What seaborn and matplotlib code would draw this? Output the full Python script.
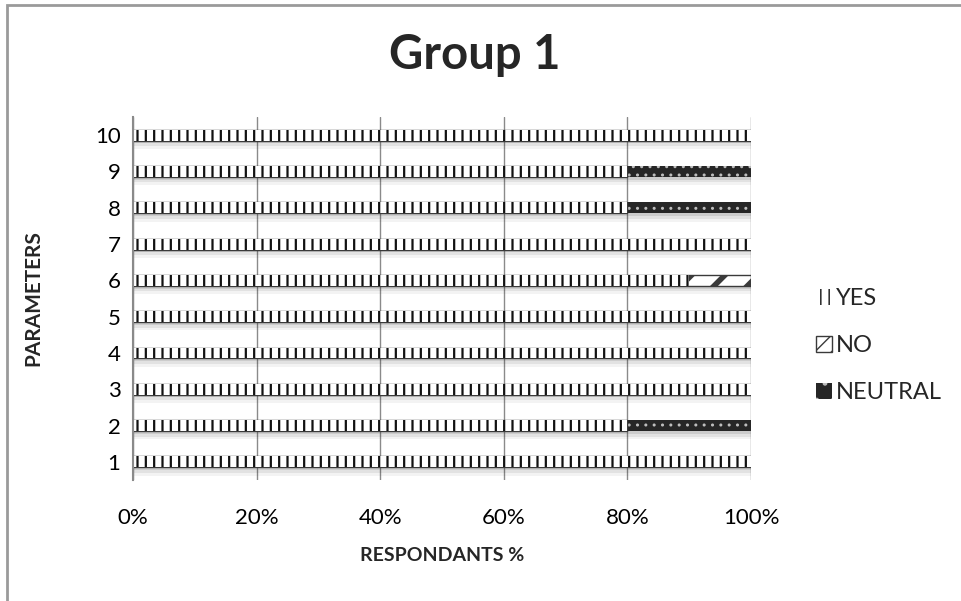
import matplotlib
matplotlib.use("Agg")
import matplotlib.pyplot as plt
import matplotlib.patheffects as pe
from matplotlib.patches import Patch, Rectangle
from matplotlib.ticker import PercentFormatter
import pandas as pd
import seaborn as sns

# Survey responses per parameter (percent of respondents)
parameters = ["1", "2", "3", "4", "5", "6", "7", "8", "9", "10"]
yes_pct = [100, 80, 100, 100, 100, 90, 100, 80, 80, 100]
no_pct = [0, 0, 0, 0, 0, 10, 0, 0, 0, 0]
neutral_pct = [0, 20, 0, 0, 0, 0, 0, 20, 20, 0]
x_ticks = [0, 20, 40, 60, 80, 100]

df = pd.DataFrame({"param": parameters, "yes": yes_pct, "no": no_pct, "neutral": neutral_pct})
df["yes_no"] = df["yes"] + df["no"]
df["total"] = df["yes_no"] + df["neutral"]
order = parameters[::-1]

sns.set_theme(style="white")
plt.rcParams["font.family"] = ["Lato", "DejaVu Sans"]

fig = plt.figure(figsize=(9.62, 6.01), dpi=100)
ax = fig.add_axes([0.1383, 0.2013, 0.6424, 0.604])

bar_w = 0.3
shadow = [
    pe.SimplePatchShadow(offset=(0, -2), shadow_rgbFace="k", alpha=0.10),
    pe.SimplePatchShadow(offset=(0, -4), shadow_rgbFace="k", alpha=0.08),
    pe.SimplePatchShadow(offset=(0, -6), shadow_rgbFace="k", alpha=0.05),
    pe.Normal(),
]

def layer(col, face, edge, lw, hatch=None, hatch_lw=1.0, fill=True, effects=None):
    before = len(ax.patches)
    with plt.rc_context({"hatch.linewidth": hatch_lw}):
        sns.barplot(data=df, x=col, y="param", orient="h", order=order,
                    width=bar_w, color=face if fill else "white", saturation=1,
                    errorbar=None, edgecolor=edge, linewidth=lw, hatch=hatch, ax=ax)
    for p in ax.patches[before:]:
        if not fill:
            p.set_facecolor("none")
        if effects:
            p.set_path_effects(effects)

# NEUTRAL segment (stack total), dark with light dots
layer("total", "#262626", "#262626", 0, effects=shadow)
layer("total", "#262626", "#bdbdbd", 0, hatch="..", fill=False)
# NO segment (yes + no), white with dark diagonal stripes
layer("yes_no", "white", "#3a3a3a", 1.0, hatch="/", hatch_lw=4.0)
# YES segment, white with vertical ticks
layer("yes", "white", "#111111", 0, hatch="||", hatch_lw=1.6)

ax.set_xlim(0, 100)
ax.set_xticks(x_ticks)
ax.xaxis.set_major_formatter(PercentFormatter(decimals=0))
ax.grid(axis="x", color="#8a8a8a", linewidth=1.0)
ax.grid(axis="y", visible=False)
ax.set_axisbelow(True)
for s in ["top", "right", "bottom"]:
    ax.spines[s].set_visible(False)
ax.spines["left"].set_color("#8a8a8a")
ax.spines["left"].set_linewidth(1.5)
ax.tick_params(axis="x", length=0, pad=20, labelsize=16, colors="black")
ax.tick_params(axis="y", length=0, pad=9, labelsize=16, colors="black")

ax.set_xlabel("RESPONDANTS %", fontsize=14, fontweight="bold")
ax.set_ylabel("PARAMETERS", fontsize=15, fontweight="bold")
ax.xaxis.set_label_coords(0.5, -0.185)
ax.yaxis.set_label_coords(-0.145, 0.5)

fig.text(0.494, 0.908, "Group 1", ha="center", va="center", fontsize=34, fontweight="bold")

handles = [
    Patch(facecolor="white", edgecolor="#111111", linewidth=0, hatch="||"),
    Patch(facecolor="white", edgecolor="#3a3a3a", linewidth=1.0, hatch="//"),
    Patch(facecolor="#262626", edgecolor="#bdbdbd", linewidth=0, hatch="."),
]
leg = fig.legend(handles, ["YES", "NO", "NEUTRAL"], loc="center left",
                 bbox_to_anchor=(0.838, 0.425), frameon=False, fontsize=17,
                 handlelength=0.7, handleheight=0.7, handletextpad=0.15,
                 labelspacing=1.1, borderaxespad=0)

# Outer chart frame
fig.patches.append(Rectangle((7 / 962, -0.2), 1.2, 0.2 + (1 - 5 / 601), transform=fig.transFigure,
                             fill=False, edgecolor="#9a9a9a", linewidth=2, zorder=10))

fig.savefig("out.png", dpi=100, facecolor="white")
